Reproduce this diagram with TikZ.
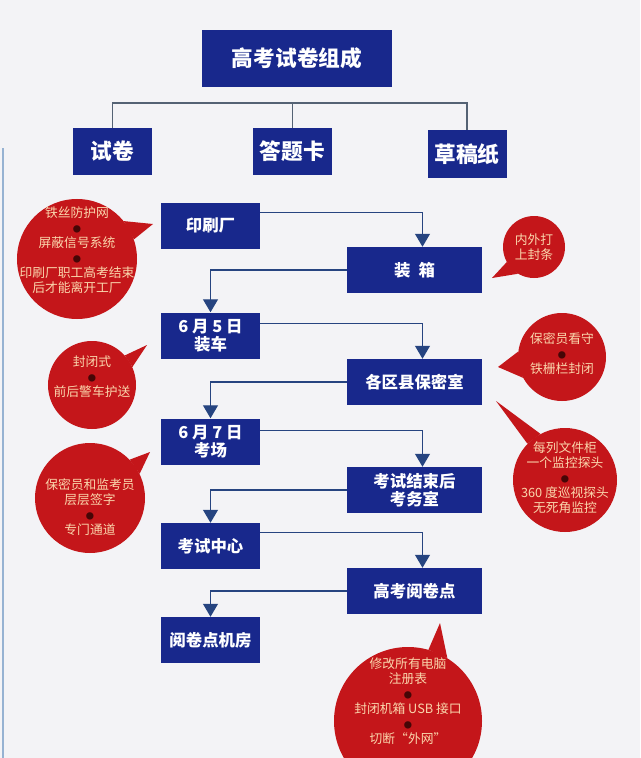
\documentclass[tikz,border=0pt]{standalone}
\usepackage{fontspec}
\setmainfont{Noto Sans CJK SC}
\usetikzlibrary{arrows.meta}
\definecolor{boxblue}{RGB}{24,40,140}
\definecolor{bubred}{RGB}{196,22,26}
\definecolor{bubtext}{RGB}{250,214,172}
\definecolor{dotred}{RGB}{70,6,6}
\definecolor{flowline}{RGB}{38,68,128}
\definecolor{barline}{RGB}{84,98,116}
\definecolor{paper}{RGB}{243,243,246}
\definecolor{edgeblue}{RGB}{150,178,210}
\newcommand\bdot{{\color{dotred}\fontsize{7}{7}\selectfont ●}}

\begin{document}
\begin{tikzpicture}[x=0.03cm,y=-0.03cm,
	bluebox/.style={fill=boxblue,text=white,align=center,inner sep=0pt},
	titlebox/.style={bluebox,font=\bfseries\fontsize{18.5}{22}\selectfont},
	partbox/.style={bluebox,minimum width=2.37cm,minimum height=1.41cm,font=\bfseries\fontsize{18.5}{22}\selectfont},
	leftbox/.style={bluebox,minimum width=2.97cm,minimum height=1.38cm,font=\bfseries\fontsize{14}{15.5}\selectfont},
	rightbox/.style={bluebox,minimum width=4.05cm,minimum height=1.38cm,font=\bfseries\fontsize{14}{15.5}\selectfont},
	bar/.style={draw=barline,line width=0.9pt},
	flow/.style={draw=flowline,line width=1pt,-{Triangle[width=4.5mm,length=3.9mm]}},
	bubble/.style={circle,fill=bubred,inner sep=0pt},
	bubbletext/.style={text=bubtext,align=center,inner sep=0pt,font=\fontsize{10.9}{12.8}\selectfont}]
	\path[use as bounding box,fill=paper] (0,0) rectangle (640,758);
	\clip (0,0) rectangle (640,758);
	\draw[edgeblue,line width=1pt] (3,148) -- (3,758);

	\node[titlebox,minimum width=5.7cm,minimum height=1.71cm] (zusammen) at (297,58.5) {高考试卷组成};
	\node[partbox] (shijuan) at (112.5,151.5) {试卷};
	\node[partbox] (datika) at (292.5,151.5) {答题卡};
	\node[partbox] (caogao) at (467,154) {草稿纸};
	\coordinate (bar) at (297,103);
	\draw[bar] (shijuan.north) |- (bar) -| (caogao.north);
	\draw[bar] (datika.north) -- (datika.north |- bar);

	\node[leftbox] (yinshua) at (210.5,225.5) {印刷厂};
	\node[rightbox] (zhuangxiang) at (414.5,270) {装\enspace 箱};
	\node[leftbox] (zhuangche) at (210.5,335.5) {6 月 5 日\\装车};
	\node[rightbox] (baomi) at (414.5,382) {各区县保密室};
	\node[leftbox] (kaochang) at (210.5,441.5) {6 月 7 日\\考场};
	\node[rightbox] (kaowu) at (414.5,490) {考试结束后\\考务室};
	\node[leftbox] (zhongxin) at (210.5,546) {考试中心};
	\node[rightbox] (yuejuan) at (414.5,591) {高考阅卷点};
	\node[leftbox] (jifang) at (210.5,640) {阅卷点机房};

	\draw[flow] ([yshift=-0.3cm]yinshua.north east) -| ([xshift=0.24cm]zhuangxiang.north);
	\draw[flow] (zhuangxiang.west) -| (zhuangche.north);
	\draw[flow] ([yshift=-0.33cm]zhuangche.north east) -| ([xshift=0.24cm]baomi.north);
	\draw[flow] (baomi.west) -| (kaochang.north);
	\draw[flow] ([yshift=-0.36cm]kaochang.north east) -| ([xshift=0.24cm]kaowu.north);
	\draw[flow] (kaowu.west) -| (zhongxin.north);
	\draw[flow] ([yshift=-0.3cm]zhongxin.north east) -| ([xshift=0.24cm]yuejuan.north);
	\draw[flow] (yuejuan.west) -| (jifang.north);

	\node[bubble,minimum size=3.6cm] (yinshuab) at (77,259) {};
	\fill[bubred] (yinshuab.19) -- (153,224) -- (yinshuab.39) -- cycle;
	\node[bubbletext] (yinshuat) at (77,250) {铁丝防护网\\\bdot\\屏蔽信号系统\\\bdot\\印刷厂职工高考结束\\后才能离开工厂};

	\node[bubble,minimum size=1.86cm] (zhuangxiangb) at (534,247) {};
	\fill[bubred] (zhuangxiangb.209) -- (492,278) -- (zhuangxiangb.239) -- cycle;
	\node[bubbletext] (zhuangxiangt) at (534,247) {内外打\\上封条};

	\node[bubble,minimum size=2.64cm] (baomib) at (562,357) {};
	\fill[bubred] (baomib.173) -- (498,367) -- (baomib.208) -- cycle;
	\node[bubbletext] (baomit) at (562,354) {保密员看守\\\bdot\\铁栅栏封闭};

	\node[bubble,minimum size=3.12cm] (kaowub) at (565,480) {};
	\fill[bubred] (kaowub.118) -- (496,401) -- (kaowub.136) -- cycle;
	\node[bubbletext] (kaowut) at (565,478) {每列文件柜\\一个监控探头\\\bdot\\360 度巡视探头\\无死角监控};

	\node[bubble,minimum size=2.64cm] (zhuangcheb) at (92,385) {};
	\fill[bubred] (zhuangcheb.24) -- (147,345) -- (zhuangcheb.42) -- cycle;
	\node[bubbletext] (zhuangchet) at (92,377) {封闭式\\\bdot\\前后警车护送};

	\node[bubble,minimum size=3.3cm] (kaochangb) at (90,498) {};
	\fill[bubred] (kaochangb.26) -- (150,452) -- (kaochangb.44) -- cycle;
	\node[bubbletext] (kaochangt) at (90,507) {保密员和监考员\\层层签字\\\bdot\\专门通道};

	\node[bubble,minimum size=4.44cm] (yuejuanb) at (408,721) {};
	\fill[bubred] (yuejuanb.58) -- (440,623) -- (yuejuanb.74) -- cycle;
	\node[bubbletext] (yuejuant) at (408,701) {修改所有电脑\\注册表\\\bdot\\封闭机箱 USB 接口\\\bdot\\切断“外网”};
\end{tikzpicture}
\end{document}
